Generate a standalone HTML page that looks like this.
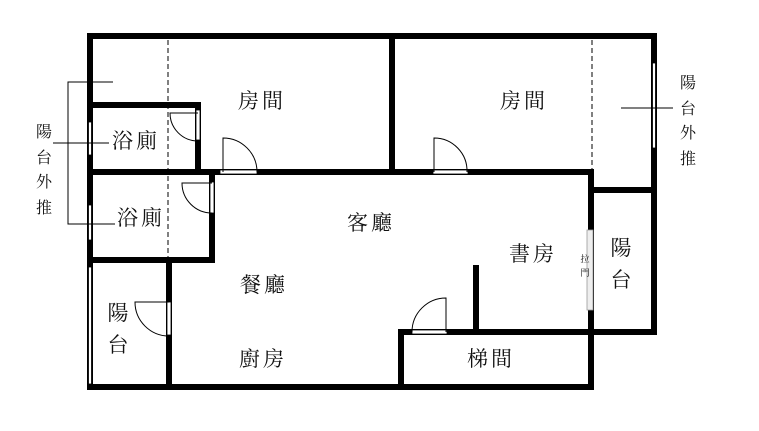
<!DOCTYPE html>
<html><head><meta charset="utf-8"><style>
html,body{margin:0;padding:0;background:#fff}
svg{display:block}
text{font-family:"Liberation Serif","Noto Serif CJK SC","Noto Sans CJK TC",serif;fill:#111}
</style></head><body>
<svg width="759" height="431" viewBox="0 0 759 431" xmlns="http://www.w3.org/2000/svg">
<g stroke="#000" stroke-width="6" fill="none" stroke-linecap="square">
<!-- outer -->
<line x1="90" y1="36" x2="654" y2="36"/>
<line x1="90" y1="36" x2="90" y2="387"/>
<line x1="90" y1="387" x2="591" y2="387"/>
<line x1="654" y1="36" x2="654" y2="332"/>
<line x1="591" y1="172" x2="591" y2="387"/>
<line x1="591" y1="190" x2="654" y2="190"/>
<line x1="401" y1="332" x2="654" y2="332"/>
<line x1="401" y1="332" x2="401" y2="387"/>
<line x1="476" y1="268" x2="476" y2="332"/>
<line x1="392" y1="36" x2="392" y2="172"/>
<line x1="90" y1="172" x2="591" y2="172"/>
<line x1="90" y1="105" x2="198" y2="105"/>
<line x1="198" y1="105" x2="198" y2="172"/>
<line x1="212" y1="172" x2="212" y2="260"/>
<line x1="90" y1="260" x2="212" y2="260"/>
<line x1="169" y1="260" x2="169" y2="387"/>
</g>
<!-- windows -->
<g fill="#fff" stroke="#000" stroke-width="0.8">
<rect x="88.5" y="122" width="3" height="33"/>
<rect x="88.5" y="205" width="3" height="35"/>
<rect x="88.5" y="267" width="3" height="117"/>
<rect x="652.5" y="63" width="3" height="85"/>
<!-- door openings -->
<rect x="220" y="170" width="37" height="4"/>
<rect x="433" y="170" width="35" height="4"/>
<rect x="412" y="330" width="35" height="4"/>
<rect x="196" y="110" width="4" height="30"/>
<rect x="210" y="182" width="4" height="31"/>
<rect x="167" y="302" width="4" height="33"/>
</g>
<rect x="587" y="230" width="6" height="80" fill="#eee" stroke="#999" stroke-width="0.8"/>
<!-- door swings -->
<g stroke="#000" stroke-width="1" fill="none">
<path d="M223 172 V138 A34 34 0 0 1 257 172"/>
<path d="M434 172 V138 A33 33 0 0 1 467 172"/>
<path d="M446 332 V298 A34 34 0 0 0 412 332"/>
<path d="M198 113 H170 A28 28 0 0 0 198 141"/>
<path d="M212 183 H182 A30 30 0 0 0 212 213"/>
<path d="M169 302 H135 A34 34 0 0 0 169 336"/>
<!-- label leaders -->
<path d="M113 82 H68 V224 H115"/>
<line x1="53" y1="143" x2="109" y2="143"/>
<line x1="621" y1="108" x2="673" y2="108"/>
</g>
<g stroke="#000" stroke-width="1" stroke-dasharray="5,3">
<line x1="168" y1="40" x2="168" y2="258"/>
<line x1="592" y1="40" x2="592" y2="170"/>
</g>
<g font-size="21" text-anchor="middle" letter-spacing="3">
<text x="262" y="108">房間</text>
<text x="524" y="108">房間</text>
<text x="136" y="148">浴廁</text>
<text x="141" y="225">浴廁</text>
<text x="371" y="230">客廳</text>
<text x="264" y="292">餐廳</text>
<text x="263" y="366">廚房</text>
<text x="533" y="261">書房</text>
<text x="491" y="366">梯間</text>
</g>
<g font-size="21" text-anchor="middle">
<text x="118" y="320">陽</text><text x="118" y="352">台</text>
<text x="621" y="255">陽</text><text x="621" y="287">台</text>
</g>
<g font-size="16" text-anchor="middle">
<text x="44" y="137">陽</text><text x="44" y="163">台</text><text x="44" y="187">外</text><text x="44" y="213">推</text>
<text x="688" y="88">陽</text><text x="688" y="114">台</text><text x="688" y="138">外</text><text x="688" y="164">推</text>
</g>
<g font-size="9" text-anchor="middle">
<text x="585" y="262">拉</text><text x="585" y="276">門</text>
</g>
</svg>
</body></html>
